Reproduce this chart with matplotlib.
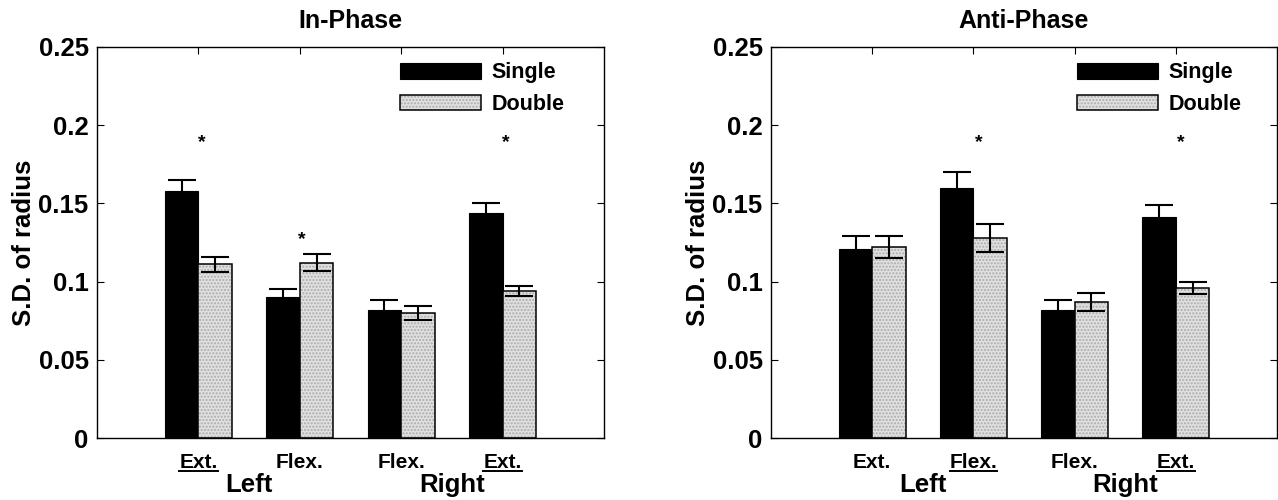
import numpy as np
import matplotlib
matplotlib.use('Agg')
import matplotlib.pyplot as plt
from matplotlib.lines import Line2D
from matplotlib.patches import Patch

plt.rcParams['font.family'] = ['Liberation Sans', 'DejaVu Sans']
plt.rcParams['font.weight'] = 'bold'

# Данные
groups = [1, 2, 3, 4]
tick_names = ['Ext.', 'Flex.', 'Flex.', 'Ext.']
side_names = ['Left', 'Right']
side_pos = [1.5, 3.5]

in_single = [0.158, 0.090, 0.082, 0.144]
in_single_err = [0.007, 0.005, 0.006, 0.006]
in_double = [0.111, 0.112, 0.080, 0.094]
in_double_err = [0.005, 0.0055, 0.0045, 0.0035]
in_underline = [0, 3]
in_stars_x = [1.03, 2.02, 4.03]
in_stars_y = [0.189, 0.127, 0.189]

anti_single = [0.121, 0.160, 0.082, 0.141]
anti_single_err = [0.008, 0.010, 0.006, 0.008]
anti_double = [0.122, 0.128, 0.087, 0.096]
anti_double_err = [0.007, 0.009, 0.006, 0.004]
anti_underline = [1, 3]
anti_stars_x = [2.05, 4.05]
anti_stars_y = [0.189, 0.189]

W = 0.33
DBL_FACE = '#e0e0e0'
DBL_HATCH = '#ababab'

fig = plt.figure(figsize=(12.78, 5.0), dpi=100)
ax1 = fig.add_axes([0.0759, 0.124, 0.3967, 0.782])
ax2 = fig.add_axes([0.6033, 0.124, 0.3960, 0.782])


def draw(ax, title, single, s_err, double, d_err, stars_x, stars_y, leg_x):
    x = np.array(groups, dtype=float)
    ax.bar(x - W / 2, single, W, color='black', edgecolor='black', lw=0.8, zorder=2)
    ax.errorbar(x - W / 2, single, yerr=s_err, fmt='none', ecolor='black',
                elinewidth=1.5, capsize=10, capthick=1.5, zorder=3)
    # двойные: текстура + чёрная рамка
    ax.bar(x + W / 2, double, W, color=DBL_FACE, edgecolor=DBL_HATCH, hatch='.....',
           lw=0, zorder=2)
    ax.bar(x + W / 2, double, W, fill=False, edgecolor='black', lw=1.1, zorder=2)
    ax.errorbar(x + W / 2, double, yerr=d_err, fmt='none', ecolor='black',
                elinewidth=1.5, capsize=10, capthick=1.5, zorder=3)
    for sx, sy in zip(stars_x, stars_y):
        ax.text(sx, sy, '*', ha='center', va='center', fontsize=14, fontweight='bold')

    ax.set_xlim(0, 5)
    ax.set_ylim(0, 0.25)
    ax.set_yticks([0, 0.05, 0.1, 0.15, 0.2, 0.25])
    ax.set_yticklabels(['0', '0.05', '0.1', '0.15', '0.2', '0.25'])
    ax.set_xticks(groups)
    ax.set_xticklabels(tick_names, fontsize=15, fontweight='bold')
    ax.tick_params(axis='y', direction='in', left=True, right=True, length=5,
                   width=0.8, labelsize=18.5, pad=6)
    ax.tick_params(axis='x', direction='in', top=True, bottom=True, length=5,
                   width=0.8, pad=11)
    for sp in ax.spines.values():
        sp.set_linewidth(1.0)
    ax.set_title(title, fontsize=18, fontweight='bold', pad=14)
    ax.set_ylabel('S.D. of radius', fontsize=18.5, fontweight='bold')
    ax.yaxis.set_label_coords(-0.12, 0.5)
    tr = ax.get_xaxis_transform()
    for name, p in zip(side_names, side_pos):
        ax.text(p, -0.138, name, transform=tr, ha='center', va='baseline',
                fontsize=18.5, fontweight='bold')

    h1 = Patch(facecolor='black', edgecolor='black', lw=0.8)
    h2 = (Patch(facecolor=DBL_FACE, edgecolor=DBL_HATCH, hatch='.....', lw=0),
          Patch(fill=False, edgecolor='black', lw=1.1))
    ax.legend([h1, h2], ['Single', 'Double'], loc='upper right',
              bbox_to_anchor=(leg_x, 1.005), frameon=False, fontsize=15.5,
              handlelength=3.77, handleheight=0.75, handletextpad=0.5,
              labelspacing=0.5, borderpad=0.3)


draw(ax1, 'In-Phase', in_single, in_single_err, in_double, in_double_err,
     in_stars_x, in_stars_y, 0.956)
draw(ax2, 'Anti-Phase', anti_single, anti_single_err, anti_double, anti_double_err,
     anti_stars_x, anti_stars_y, 0.964)

# подчёркивания под подписями
fig.canvas.draw()
inv = fig.transFigure.inverted()
for ax, idx in [(ax1, in_underline), (ax2, anti_underline)]:
    labels = ax.get_xticklabels()
    for i in idx:
        bb = labels[i].get_window_extent()
        (x0, y0), (x1, y1) = inv.transform([(bb.x0, bb.y0), (bb.x1, bb.y1)])
        yy = y0 + 1.5 / 500
        fig.add_artist(Line2D([x0, x1], [yy, yy], transform=fig.transFigure,
                              color='black', lw=1.4))

fig.savefig('out.png', dpi=100)
